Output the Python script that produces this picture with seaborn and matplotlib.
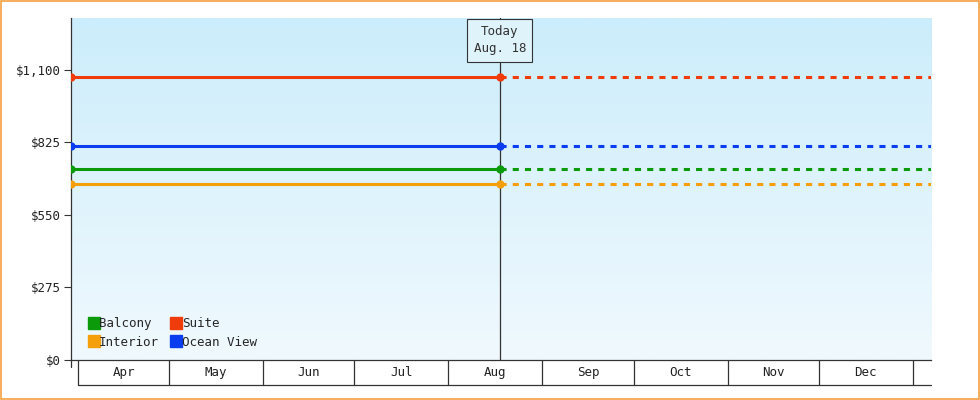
import numpy as np
import pandas as pd
import matplotlib
matplotlib.use("Agg")
import matplotlib.pyplot as plt
import matplotlib.transforms as mtransforms
from matplotlib.patches import Rectangle
import seaborn as sns

# days counted from Apr 1
months = ["Apr", "May", "Jun", "Jul", "Aug", "Sep", "Oct", "Nov", "Dec"]
month_starts = [0, 30, 61, 91, 122, 153, 183, 214, 244, 275]
series = ["Balcony", "Interior", "Suite", "Ocean View"]
prices = [725, 668, 1073, 812]
colors = ["#0a9a0a", "#f5a00a", "#f03c0a", "#0a3cf0"]
start_day, today_day, end_day = -2.3, 139, 281
yticks = [0, 275, 550, 825, 1100]

sns.set_theme(style="white")
plt.rcParams["font.family"] = ["DejaVu Sans Mono"]
fs = 9

fig = plt.figure(figsize=(9.8, 4), dpi=100)
fig.patches.append(Rectangle((0.001, 0.002), 0.998, 0.996, transform=fig.transFigure,
                             fill=False, edgecolor="#f5a040", lw=1.2))
ax = fig.add_axes([71 / 980, 40 / 400, 860 / 980, 342 / 400])
ax.set_xlim(start_day, end_day)
ax.set_ylim(0, 1297)

grad = np.linspace(0, 1, 256).reshape(-1, 1)
cmap = matplotlib.colors.LinearSegmentedColormap.from_list("bg", ["#f0f9fe", "#ccedfb"])
ax.imshow(grad, aspect="auto", cmap=cmap, origin="lower",
          extent=[start_day, end_day, 0, 1297], zorder=0)

for name, v, c in zip(series, prices, colors):
    solid = pd.DataFrame({"x": [start_day, today_day], "y": [v, v]})
    sns.lineplot(data=solid, x="x", y="y", color=c, lw=2.2, marker="o", markersize=6,
                 markeredgewidth=0, ax=ax, zorder=3)
    dashed = pd.DataFrame({"x": [today_day, end_day], "y": [v, v]})
    sns.lineplot(data=dashed, x="x", y="y", color=c, lw=2.2, ls=(0, (2, 2)), ax=ax, zorder=3)
    ax.plot([], [], "s", color=c, markersize=8, label=name)

ax.axvline(today_day, color="#333333", lw=0.9, zorder=2)
ax.text(today_day, 1213, "Today\nAug. 18", ha="center", va="center", fontsize=fs,
        color="#333333", linespacing=1.45,
        bbox=dict(boxstyle="square,pad=0.5", fc="#dff3fb", ec="#333333", lw=0.8), zorder=4)

ax.set_xlabel("")
ax.set_ylabel("")
ax.set_yticks(yticks)
ax.set_yticklabels([f"${t:,}" for t in yticks], fontsize=fs, color="#222222")
ax.tick_params(axis="y", length=5, width=0.8, color="#333333", pad=2, left=True)
ax.set_xticks([])
for s in ["top", "right"]:
    ax.spines[s].set_visible(False)
for s in ["left", "bottom"]:
    ax.spines[s].set_color("#333333")
    ax.spines[s].set_linewidth(0.9)

# month boxes under the axis
tr = mtransforms.blended_transform_factory(ax.transData, ax.transAxes)
hb = -25 / 342
ax.plot([0, end_day], [hb, hb], transform=tr, color="#333333", lw=0.9, clip_on=False)
ax.plot([start_day, start_day], [0, -7 / 342], transform=tr, color="#333333", lw=0.9, clip_on=False)
for x in month_starts:
    ax.plot([x, x], [0, hb], transform=tr, color="#333333", lw=0.9, clip_on=False)
for i, m in enumerate(months):
    ax.text((month_starts[i] + month_starts[i + 1]) / 2, hb / 2, m, transform=tr,
            ha="center", va="center", fontsize=fs, color="#222222")

ax.legend(loc="lower left", ncol=2, frameon=False, fontsize=fs, handlelength=0.7,
          handletextpad=0.1, columnspacing=1.0, labelspacing=0.45,
          bbox_to_anchor=(0.008, 0.0))

fig.savefig("out.png", dpi=100)
